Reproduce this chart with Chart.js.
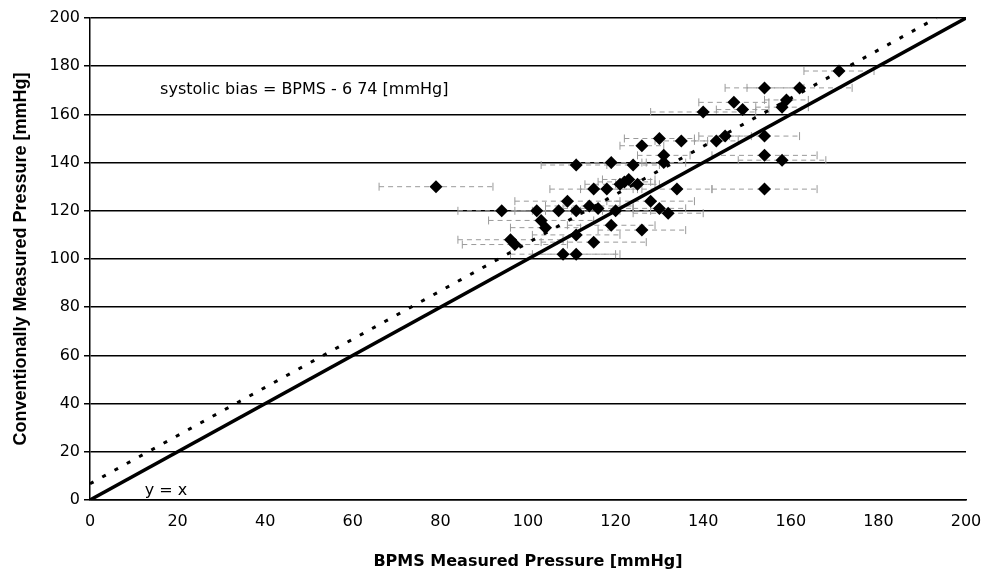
<!DOCTYPE html>
<html>
<head>
<meta charset="utf-8">
<script src="https://cdn.jsdelivr.net/npm/chart.js@4/dist/chart.umd.min.js"></script>
<style>
  html, body { margin: 0; padding: 0; background: #ffffff; }
  #wrap { width: 982px; height: 571px; }
</style>
</head>
<body>
<div id="wrap"><canvas id="c" width="982" height="571"></canvas></div>
<script>
// ---- data ----
const bpms = [171,162,158,159,158,154,147,140,149,154,154,154,145,143,130,135,126,131,131,119,124,121,123,125,118,134,128,132,130,126,111,115,109,111,102,107,103,116,114,108,111,115,119,79,94,96,97,104,111,120,122];
const conventional = [178,171,163,166,141,171,165,161,162,151,143,129,151,149,150,149,147,143,140,140,139,131,133,131,129,129,124,119,121,112,139,129,124,120,120,120,116,121,122,102,102,107,114,130,120,108,106,113,110,120,132];
const errHalf = [8,12,6,5,10,9,8,12,6,8,12,12,6,5,8,6,5,6,5,8,6,8,6,5,6,8,10,8,6,10,8,10,12,10,8,10,12,8,10,12,10,12,10,13,10,12,12,8,10,8,6];
const lineX = [0, 200];
const bias = 6.74;
const tickValues = [0,20,40,60,80,100,120,140,160,180,200];
const xTitle = 'BPMS Measured Pressure [mmHg]';
const yTitle = 'Conventionally Measured Pressure [mmHg]';
const biasLabel = 'systolic bias = BPMS - 6 74 [mmHg]';
const identityLabel = 'y = x';

const scatterPts = bpms.map((x, i) => ({ x: x, y: conventional[i] }));
const identityPts = lineX.map(x => ({ x: x, y: x }));
const biasPts = [{ x: 0, y: bias }, { x: 200 - bias, y: 200 }];

const errorBars = {
  id: 'errorBars',
  beforeDatasetsDraw(chart) {
    const ctx = chart.ctx, xs = chart.scales.x, ys = chart.scales.y;
    ctx.save();
    ctx.strokeStyle = '#9a9a9a';
    ctx.lineWidth = 1;
    bpms.forEach((x, i) => {
      const py = ys.getPixelForValue(conventional[i]);
      const x1 = xs.getPixelForValue(x - errHalf[i]);
      const x2 = xs.getPixelForValue(x + errHalf[i]);
      ctx.setLineDash([5, 4]);
      ctx.beginPath(); ctx.moveTo(x1, py); ctx.lineTo(x2, py); ctx.stroke();
      ctx.setLineDash([]);
      ctx.beginPath();
      ctx.moveTo(x1, py - 4); ctx.lineTo(x1, py + 4);
      ctx.moveTo(x2, py - 4); ctx.lineTo(x2, py + 4);
      ctx.stroke();
    });
    ctx.restore();
  },
  afterDatasetsDraw(chart) {
    const ctx = chart.ctx, xs = chart.scales.x, ys = chart.scales.y;
    ctx.save();
    ctx.fillStyle = '#000';
    ctx.font = '16px "DejaVu Sans"';
    ctx.textBaseline = 'middle';
    ctx.textAlign = 'left';
    ctx.fillText(biasLabel, xs.getPixelForValue(16), ys.getPixelForValue(170));
    ctx.fillText(identityLabel, xs.getPixelForValue(12.5), ys.getPixelForValue(4));
    ctx.restore();
  }
};

new Chart(document.getElementById('c'), {
  type: 'scatter',
  data: {
    datasets: [
      {
        type: 'line', data: identityPts, borderColor: '#000', borderWidth: 3.5,
        pointRadius: 0, fill: false, order: 2
      },
      {
        type: 'line', data: biasPts, borderColor: '#000', borderWidth: 3,
        borderDash: [4, 10], pointRadius: 0, fill: false, order: 3
      },
      {
        data: scatterPts, pointStyle: 'rectRot', pointRadius: 6.5,
        backgroundColor: '#000', borderColor: '#000', borderWidth: 0, order: 1
      }
    ]
  },
  options: {
    responsive: false,
    animation: false,
    events: [],
    layout: { padding: { top: 18, right: 0, left: 0, bottom: 0 } },
    plugins: { legend: { display: false }, tooltip: { enabled: false } },
    scales: {
      x: {
        type: 'linear', min: 0, max: 200,
        afterBuildTicks: s => { s.ticks = tickValues.map(v => ({ value: v })); },
        grid: { display: false, drawTicks: false },
        border: { display: true, color: '#000', width: 1.5 },
        ticks: { color: '#000', font: { family: '"DejaVu Sans"', size: 16 }, padding: 12, maxRotation: 0 },
        title: { display: true, text: xTitle, color: '#000',
                 font: { family: '"DejaVu Sans"', size: 16, weight: 'bold' }, padding: { top: 14, bottom: 0 } },
        afterFit: s => { s.height = 71; s.paddingRight = 16; s.paddingLeft = 0; }
      },
      y: {
        type: 'linear', min: 0, max: 200,
        afterBuildTicks: s => { s.ticks = tickValues.map(v => ({ value: v })); },
        grid: { color: '#000', lineWidth: 1.5, drawTicks: true, tickLength: 6 },
        border: { display: true, color: '#000', width: 1.5 },
        ticks: { color: '#000', font: { family: '"DejaVu Sans"', size: 16 }, padding: 4 },
        title: { display: true, text: yTitle, color: '#000',
                 font: { family: '"Liberation Sans"', size: 18, weight: 'bold' }, padding: { top: 10, bottom: 0 } },
        afterFit: s => { s.width = 90; }
      }
    }
  },
  plugins: [errorBars]
});
</script>
</body>
</html>
